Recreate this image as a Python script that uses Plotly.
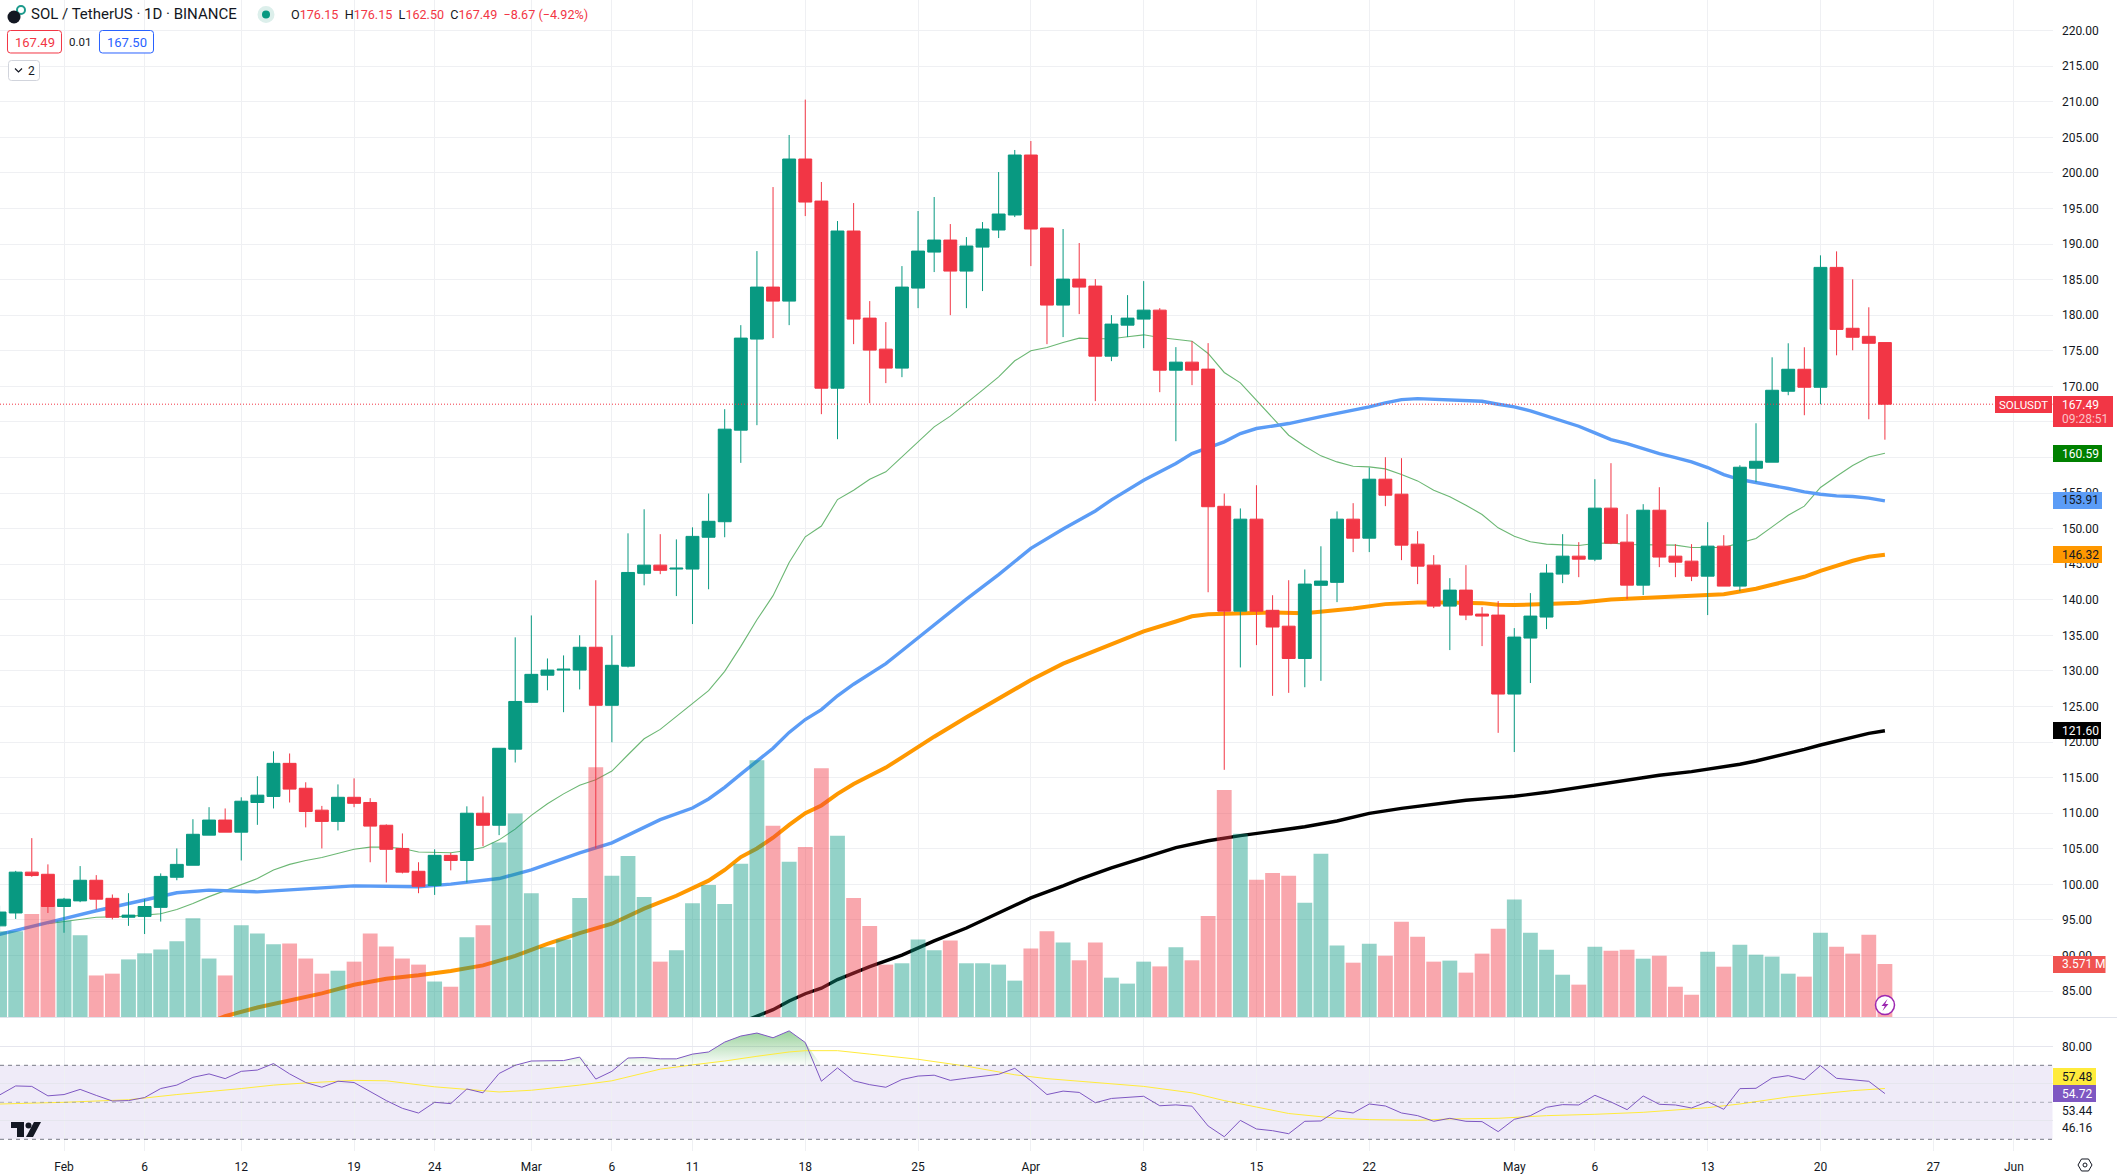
import pandas as pd
import plotly.graph_objects as go

W, H = 2117, 1174
dates = pd.date_range("2024-01-28", "2024-05-24", freq="D")

opens = [94.17, 95.98, 101.72, 101.42,
  96.89, 97.68, 100.58, 98.04, 95.38, 95.50, 96.77, 101.00, 102.69, 106.92, 109.04, 107.34, 111.51, 112.36, 117.01, 113.51, 110.43, 108.85, 112.24, 111.51, 108.31, 105.05, 101.84, 99.85, 104.08, 103.36, 110.00, 108.31, 119.00,
  125.59, 129.40, 130.12, 130.12, 133.33, 125.17, 130.67, 143.72, 144.87, 144.32, 144.32, 148.79, 150.97, 163.84, 176.64, 183.95, 181.98, 201.95, 196.04, 169.74, 191.83, 179.59, 175.23, 172.56, 183.81, 188.87, 190.56, 186.20, 189.57, 191.97, 194.08,
  202.51, 192.25, 181.42, 185.07, 184.09, 174.24, 178.60, 179.45, 180.71, 172.27, 173.40, 172.42, 153.14, 138.40, 151.33, 138.52, 136.29, 131.75, 142.03, 142.45, 151.33, 148.66, 156.95, 154.84, 147.82, 144.87, 139.11, 141.36, 137.99, 137.85,
  126.75, 134.62, 137.57, 143.61, 146.13, 145.71, 152.88, 148.10, 142.06, 152.59, 146.13, 145.43, 143.32, 147.54, 141.92, 158.49, 159.34, 169.31, 172.40, 169.87, 186.72, 178.16, 177.03, 176.15]
closes = [96.11, 101.72, 101.24, 96.89,
  97.92, 100.58, 97.92, 95.38, 95.68, 96.89, 101.12, 102.81, 107.04, 109.04, 107.34, 111.69, 112.54, 117.01, 113.39, 110.24, 108.85, 112.24, 111.39, 108.19, 104.93, 101.72, 99.73, 104.08, 103.36, 110.00, 108.31, 119.13, 125.71,
  129.52, 130.12, 130.24, 133.33, 125.17, 130.79, 143.84, 144.87, 144.14, 144.44, 148.91, 151.03, 163.98, 176.78, 183.95, 181.98, 201.95, 195.90, 169.74, 191.83, 179.45, 175.09, 172.56, 183.95, 189.01, 190.56, 186.20, 189.72, 192.11, 194.22, 202.51,
  192.11, 181.42, 185.07, 183.95, 174.24, 178.75, 179.59, 180.71, 172.27, 173.40, 172.27, 153.08, 138.40, 151.33, 138.40, 136.17, 131.75, 142.21, 142.63, 151.33, 148.66, 156.95, 154.70, 147.68, 144.73, 139.11, 141.36, 137.85, 137.71, 126.75,
  134.76, 137.71, 143.75, 146.13, 145.71, 152.88, 147.96, 142.06, 152.59, 146.00, 145.29, 143.32, 147.54, 141.92, 158.63, 159.47, 169.45, 172.40, 169.87, 186.72, 178.00, 176.90, 176.05, 167.49]
highs = [97.0, 101.90, 106.50, 102.81,
  98.10, 102.57, 101.30, 98.58, 98.76, 97.92, 101.54, 105.05, 109.16, 110.85, 110.67, 112.24, 115.20, 118.70, 118.40, 114.35, 111.03, 114.05, 114.90, 112.12, 108.43, 107.16, 103.11, 104.93, 104.44, 110.97, 112.36, 119.13, 134.72,
  137.80, 131.75, 132.18, 135.02, 142.75, 135.02, 149.34, 152.72, 149.22, 148.49, 150.18, 154.93, 166.79, 178.60, 189.01, 198.01, 205.33, 210.30, 198.72, 193.23, 195.76, 181.98, 179.03, 186.90, 194.64, 196.61, 192.81, 190.98, 193.09, 200.12, 203.22,
  204.48, 192.25, 192.11, 190.14, 185.07, 180.01, 182.82, 184.79, 180.99, 175.51, 176.35, 176.07, 154.93, 152.84, 156.10, 140.64, 142.75, 144.26, 147.52, 152.42, 153.58, 158.59, 160.04, 159.90, 149.64, 146.27, 143.04, 144.87, 138.97, 139.81,
  136.02, 140.94, 145.01, 149.22, 148.10, 156.95, 159.20, 152.03, 153.44, 155.82, 147.82, 147.82, 150.91, 149.08, 158.91, 164.81, 174.08, 176.05, 175.49, 188.41, 188.97, 185.04, 181.11, 176.15]
lows = [93.5, 95.14, 101.06, 95.98,
  93.20, 97.50, 96.47, 95.08, 94.17, 93.02, 94.77, 100.58, 102.69, 106.92, 107.34, 103.36, 108.37, 110.67, 111.51, 108.01, 105.05, 107.58, 110.85, 103.11, 100.27, 101.54, 98.76, 98.52, 101.97, 100.27, 105.35, 106.92, 117.13,
  125.59, 127.28, 124.20, 127.40, 105.05, 119.97, 130.49, 142.03, 143.60, 140.52, 136.59, 141.48, 148.79, 159.24, 164.54, 176.78, 178.60, 193.93, 166.09, 162.57, 175.93, 167.63, 170.45, 171.29, 180.99, 186.06, 180.01, 180.99, 183.39, 190.84, 193.79,
  186.90, 175.93, 176.92, 180.15, 167.92, 173.54, 176.92, 175.37, 169.18, 162.29, 170.17, 141.06, 116.10, 130.49, 133.63, 126.50, 126.92, 127.71, 128.61, 139.67, 146.70, 146.70, 153.16, 145.57, 142.20, 138.83, 132.93, 137.14, 133.49, 121.30,
  118.60, 128.30, 135.88, 142.34, 143.18, 145.43, 147.82, 140.09, 140.66, 144.59, 143.18, 142.62, 137.85, 141.92, 141.22, 156.53, 159.34, 168.75, 165.94, 167.48, 174.36, 175.07, 165.37, 162.50]
volumes = [5.78, 5.78, 6.94, 8.55,
  6.51, 5.51, 2.80, 2.92, 3.88, 4.29, 4.55, 5.10, 6.65, 3.94, 2.80, 6.18, 5.63, 4.90, 4.96, 3.94, 2.92, 3.12, 3.73, 5.63, 4.75, 3.94, 3.53, 2.39, 2.04, 5.37, 6.18, 11.76, 13.71,
  8.34, 4.70, 5.22, 8.02, 16.83, 9.51, 10.85, 8.08, 3.73, 4.49, 7.67, 8.90, 7.61, 10.33, 17.30, 12.89, 10.47, 11.46, 16.77, 12.22, 8.02, 6.13, 3.53, 3.62, 5.22, 4.49, 5.16, 3.62, 3.62, 3.53, 2.45,
  4.61, 5.78, 5.02, 3.82, 5.02, 2.65, 2.25, 3.73, 3.41, 4.70, 3.82, 6.80, 15.29, 12.34, 9.25, 9.71, 9.51, 7.70, 11.00, 4.81, 3.66, 4.94, 4.13, 6.42, 5.41, 3.73, 3.80, 2.99, 4.27, 5.95,
  7.91, 5.68, 4.54, 2.85, 2.18, 4.74, 4.47, 4.54, 3.93, 4.13, 2.04, 1.50, 4.40, 3.39, 4.87, 4.20, 4.07, 2.92, 2.72, 5.68, 4.74, 4.27, 5.55, 3.571]
rsi = [53.95, 58.84, 58.60, 53.49,
  54.19, 56.98, 53.72, 50.70, 50.93, 52.56, 57.44, 59.30, 63.49, 65.35, 62.79, 66.74, 67.44, 70.93, 65.35, 60.70, 58.14, 61.40, 60.70, 55.58, 50.93, 46.74, 44.19, 50.00, 49.30, 57.21, 55.12, 65.58, 70.00,
  72.33, 72.56, 72.56, 74.42, 62.56, 66.74, 73.95, 74.19, 73.49, 73.49, 76.05, 77.21, 82.56, 85.81, 87.44, 84.88, 88.60, 82.33, 61.40, 68.60, 61.63, 59.53, 58.14, 62.33, 64.19, 64.65, 61.86, 63.02, 64.19, 65.12, 68.37,
  61.63, 54.19, 56.05, 55.35, 49.77, 52.09, 52.56, 53.26, 48.14, 48.60, 47.91, 37.21, 31.40, 40.23, 35.58, 34.65, 33.02, 39.73, 39.91, 45.50, 44.23, 49.10, 48.02, 44.23, 42.79, 39.73, 41.35, 39.73, 39.55, 34.14,
  40.81, 42.79, 47.30, 48.74, 48.56, 53.78, 50.18, 46.04, 53.42, 48.92, 48.56, 46.94, 50.36, 46.22, 57.39, 57.57, 63.15, 64.41, 62.25, 69.82, 62.97, 62.07, 61.35, 54.72]

ma_fast_dates = ["01-31","02-01","02-03","02-05","02-07","02-08","02-09","02-10","02-12","02-13","02-14","02-15","02-16","02-17","02-19","02-20","02-21","02-22","02-23","02-25","02-26","02-27","02-28","02-29","03-01","03-02","03-03","03-04","03-05","03-06","03-07","03-08","03-09","03-10","03-11","03-12","03-13","03-14","03-15","03-16","03-17","03-18","03-19","03-20","03-21","03-22","03-23","03-24","03-25","03-26","03-27","03-28","03-29","03-30","03-31","04-01","04-02","04-03","04-04","04-05","04-06","04-07","04-08","04-09","04-10","04-11","04-12","04-13","04-14","04-15","04-16","04-17","04-18","04-19","04-20","04-21","04-22","04-23","04-24","04-25","04-26","04-27","04-28","04-29","04-30","05-01","05-02","05-03","05-04","05-05","05-06","05-07","05-08","05-09","05-10","05-11","05-12","05-13","05-14","05-15","05-16","05-17","05-18","05-19","05-20","05-21","05-22","05-23","05-24"]
ma_fast = [94.47,94.78,95.38,95.50,95.86,96.47,97.31,98.28,99.91,100.82,102.03,102.81,103.36,103.78,104.93,105.23,105.23,105.05,104.56,104.44,104.75,105.17,106.26,107.77,109.70,111.33,112.72,113.93,114.72,115.92,118.22,120.46,121.78,123.60,125.41,127.22,129.94,133.45,137.19,140.58,145.23,148.85,150.37,154.09,155.40,156.95,157.98,160.09,162.20,164.31,165.81,167.59,169.46,171.34,173.59,174.99,175.46,176.17,176.78,176.68,176.68,176.96,177.24,176.87,176.64,176.35,174.62,171.95,170.49,168.06,165.71,163.13,161.59,160.23,159.38,158.77,158.68,158.40,157.60,156.71,155.40,154.47,153.30,151.99,150.11,148.94,148.15,147.82,147.72,147.63,147.91,148.00,147.77,147.77,147.77,147.68,147.35,147.35,147.35,148.00,148.61,150.25,151.89,153.16,155.78,157.37,158.87,160.08,160.59]

ma_mid_dates = ["01-28","01-31","02-01","02-03","02-06","02-08","02-10","02-13","02-16","02-19","02-23","02-25","02-28","03-01","03-04","03-06","03-09","03-11","03-12","03-13","03-14","03-15","03-16","03-17","03-18","03-19","03-20","03-21","03-23","03-24","03-26","03-28","03-30","04-01","04-03","04-05","04-06","04-08","04-10","04-11","04-13","04-14","04-15","04-17","04-19","04-21","04-22","04-23","04-24","04-25","04-27","04-29","04-30","05-01","05-02","05-03","05-04","05-05","05-06","05-07","05-08","05-09","05-10","05-11","05-12","05-13","05-14","05-15","05-16","05-17","05-18","05-19","05-20","05-21","05-22","05-23","05-24"]
ma_mid = [92.96,94.72,95.20,96.29,97.80,98.82,99.19,98.95,99.37,99.79,99.67,100.03,100.82,102.03,104.44,105.83,109.10,110.73,112.00,113.63,115.50,117.31,119.13,121.36,123.17,124.56,126.50,128.13,131.03,132.84,136.47,140.09,143.54,147.22,149.94,152.48,154.05,156.80,159.15,160.55,162.20,163.37,164.07,164.77,165.75,166.64,167.11,167.67,168.14,168.28,168.14,167.90,167.48,167.11,166.55,165.80,165.09,164.39,163.45,162.52,161.96,161.21,160.55,159.99,159.38,158.59,157.60,156.90,156.43,156.06,155.64,155.17,154.84,154.61,154.51,154.28,153.91]

ma_slow_dates = ["02-10","02-11","02-13","02-15","02-17","02-19","02-21","02-23","02-25","02-27","02-29","03-02","03-04","03-06","03-08","03-10","03-11","03-12","03-13","03-14","03-15","03-16","03-17","03-18","03-19","03-20","03-21","03-22","03-23","03-24","03-26","03-28","03-30","04-01","04-03","04-04","04-05","04-07","04-08","04-10","04-11","04-12","04-14","04-16","04-18","04-19","04-21","04-23","04-25","04-27","04-29","04-30","05-01","05-03","05-05","05-07","05-08","05-10","05-12","05-14","05-15","05-16","05-17","05-19","05-20","05-21","05-22","05-23","05-24"]
ma_slow = [80.58,81.48,82.69,83.72,84.68,85.89,86.74,87.22,87.83,88.61,89.94,91.63,93.14,94.47,96.59,98.40,99.43,100.52,102.03,103.84,105.05,106.56,108.37,110.00,111.09,112.72,114.11,115.32,116.41,117.86,120.76,123.48,126.07,128.73,131.03,131.94,132.72,134.53,135.56,136.95,137.68,137.98,138.16,138.22,138.10,138.31,138.78,139.39,139.63,139.63,139.53,139.30,139.25,139.39,139.58,140.05,140.14,140.42,140.61,140.79,141.17,141.55,142.11,143.23,144.07,144.82,145.48,146.04,146.32]

ma_long_dates = ["03-14","03-15","03-16","03-17","03-18","03-19","03-20","03-21","03-22","03-24","03-26","03-28","03-30","04-01","04-03","04-04","04-06","04-08","04-10","04-12","04-14","04-16","04-18","04-20","04-22","04-24","04-26","04-28","04-30","05-01","05-03","05-05","05-06","05-08","05-10","05-12","05-13","05-14","05-15","05-16","05-17","05-18","05-19","05-20","05-21","05-22","05-23","05-24"]
ma_long = [80.58,81.48,82.39,83.60,84.63,85.41,86.62,87.52,88.43,90.06,92.06,93.87,95.98,98.10,99.79,100.70,102.33,103.72,105.17,106.13,106.86,107.46,108.10,108.91,109.99,110.69,111.30,111.82,112.19,112.38,112.94,113.60,113.97,114.58,115.33,115.84,116.17,116.45,116.88,117.34,117.86,118.42,118.98,119.59,120.15,120.72,121.23,121.60]

rsi_ma_dates = ["01-28","02-01","02-05","02-08","02-12","02-14","02-16","02-19","02-21","02-24","02-26","02-28","03-01","03-04","03-06","03-09","03-11","03-13","03-15","03-17","03-18","03-20","03-22","03-25","03-28","03-31","04-02","04-05","04-08","04-11","04-13","04-15","04-17","04-20","04-22","04-25","04-27","04-30","05-03","05-06","05-09","05-13","05-15","05-18","05-20","05-22","05-24"]
rsi_ma = [49.07,50.00,51.40,54.19,57.44,59.30,60.47,61.86,61.63,58.37,56.98,55.58,56.51,59.30,61.63,67.91,70.23,72.33,74.88,77.21,77.91,77.91,76.05,73.26,69.53,64.88,62.79,60.70,58.60,55.12,50.93,47.44,43.95,41.35,40.63,40.27,40.99,41.35,42.79,43.51,44.59,47.12,49.10,52.88,54.50,56.31,57.48]

x_tick_dates = ["2024-02-01","2024-02-06","2024-02-12","2024-02-19","2024-02-24","2024-03-01","2024-03-06","2024-03-11","2024-03-18","2024-03-25","2024-04-01","2024-04-08","2024-04-15","2024-04-22","2024-05-01","2024-05-06","2024-05-13","2024-05-20","2024-05-27","2024-06-01"]
x_tick_text = ["Feb","6","12","19","24","Mar","6","11","18","25","Apr","8","15","22","May","6","13","20","27","Jun"]
price_ticks = list(range(85, 225, 5))

UP, DOWN = "#089981", "#f23645"
TXT = "#131722"
GRID = "#eff0f3"
FONT = "Roboto, Arial, sans-serif"

PANE_R = 2052.5
MAIN_B = 1017
RSI_T, RSI_B = 1018, 1151

def d(v):
    return ["2024-" + s for s in v]

def px(x):
    return x / W

def py(y):
    return 1 - y / H

def path(points, close=True):
    s = "M " + " L ".join(f"{px(a):.5f},{py(b):.5f}" for a, b in points)
    return s + (" Z" if close else "")

fig = go.Figure()

# moving averages on the base price axis (beneath the candles)
for xs, ys, col, wd in [
    (ma_fast_dates, ma_fast, "rgba(70,165,80,0.8)", 1.1),
    (ma_mid_dates, ma_mid, "#5b9cf6", 3.4),
    (ma_slow_dates, ma_slow, "#ff9800", 4),
    (ma_long_dates, ma_long, "#000000", 3.4),
]:
    fig.add_trace(go.Scatter(x=d(xs), y=ys, mode="lines", line=dict(color=col, width=wd),
                             xaxis="x", yaxis="y", hoverinfo="skip"))

fig.add_trace(go.Candlestick(
    x=dates, open=opens, high=highs, low=lows, close=closes,
    increasing=dict(line=dict(color=UP, width=1), fillcolor=UP),
    decreasing=dict(line=dict(color=DOWN, width=1), fillcolor=DOWN),
    whiskerwidth=0, xaxis="x", yaxis="y2", hoverinfo="skip"))

vol_cols = ["rgba(8,153,129,0.44)" if c >= o else "rgba(242,54,69,0.44)" for o, c in zip(opens, closes)]
fig.add_trace(go.Bar(x=dates, y=volumes, marker=dict(color=vol_cols, line=dict(width=0)),
                     width=0.92 * 86400000, xaxis="x", yaxis="y3", hoverinfo="skip"))

# RSI pane
fig.add_trace(go.Scatter(x=dates, y=[70] * len(dates), mode="lines", line=dict(width=0),
                         xaxis="x", yaxis="y4", hoverinfo="skip"))
fig.add_trace(go.Scatter(x=dates, y=[max(v, 70) for v in rsi], mode="lines", line=dict(width=0),
                         fill="tonexty",
                         fillgradient=dict(type="vertical", start=70, stop=90,
                                           colorscale=[[0, "rgba(76,175,80,0.02)"], [1, "rgba(76,175,80,0.6)"]]),
                         xaxis="x", yaxis="y4", hoverinfo="skip"))
fig.add_trace(go.Scatter(x=d(rsi_ma_dates), y=rsi_ma, mode="lines", line=dict(color="#ffeb3b", width=1),
                         xaxis="x", yaxis="y4", hoverinfo="skip"))
fig.add_trace(go.Scatter(x=dates, y=rsi, mode="lines", line=dict(color="#7e57c2", width=1),
                         xaxis="x", yaxis="y4", hoverinfo="skip"))

shapes, annos = [], []

def rect(x0, y0, x1, y1, fill, line=None, lw=1, layer="above"):
    shapes.append(dict(type="rect", xref="paper", yref="paper", x0=px(x0), x1=px(x1), y0=py(y0), y1=py(y1),
                       fillcolor=fill, line=dict(color=line or fill, width=lw if line else 0), layer=layer))

def rrect(x0, y0, x1, y1, r, fill, line):
    s = (f"M {px(x0+r):.5f},{py(y0):.5f} L {px(x1-r):.5f},{py(y0):.5f} "
         f"Q {px(x1):.5f},{py(y0):.5f} {px(x1):.5f},{py(y0+r):.5f} L {px(x1):.5f},{py(y1-r):.5f} "
         f"Q {px(x1):.5f},{py(y1):.5f} {px(x1-r):.5f},{py(y1):.5f} L {px(x0+r):.5f},{py(y1):.5f} "
         f"Q {px(x0):.5f},{py(y1):.5f} {px(x0):.5f},{py(y1-r):.5f} L {px(x0):.5f},{py(y0+r):.5f} "
         f"Q {px(x0):.5f},{py(y0):.5f} {px(x0+r):.5f},{py(y0):.5f} Z")
    shapes.append(dict(type="path", xref="paper", yref="paper", path=s, fillcolor=fill,
                       line=dict(color=line, width=1), layer="above"))

def circle(cx, cy, r, fill, line=None, lw=1):
    shapes.append(dict(type="circle", xref="paper", yref="paper", x0=px(cx-r), x1=px(cx+r), y0=py(cy-r), y1=py(cy+r),
                       fillcolor=fill, line=dict(color=line or fill, width=lw if line else 0), layer="above"))

def label(x, y, text, size=12, color=TXT, anchor="left", weight=None):
    annos.append(dict(xref="paper", yref="paper", x=px(x), y=py(y), text=text, showarrow=False,
                      xanchor=anchor, yanchor="middle", align=anchor,
                      font=dict(family=FONT, size=size, color=color, weight=weight), borderpad=0))

# RSI band and its levels
shapes.append(dict(type="rect", xref="x domain", yref="y4", x0=0, x1=1, y0=30, y1=70,
                   fillcolor="rgba(126,87,194,0.12)", line=dict(width=0), layer="below"))
for lvl, col in [(70, "#787b86"), (50, "rgba(120,123,134,0.55)"), (30, "#787b86")]:
    shapes.append(dict(type="line", xref="x domain", yref="y4", x0=0, x1=1, y0=lvl, y1=lvl,
                       line=dict(color=col, width=1, dash="4px,4px"), layer="above"))
# last price line
shapes.append(dict(type="line", xref="x domain", yref="y", x0=0, x1=1, y0=closes[-1], y1=closes[-1],
                   line=dict(color=DOWN, width=1, dash="1px,2px"), layer="above"))
# pane separator
shapes.append(dict(type="line", xref="paper", yref="paper", x0=0, x1=1, y0=py(MAIN_B+0.5), y1=py(MAIN_B+0.5),
                   line=dict(color="#e0e3eb", width=1), layer="above"))

# header
circle(21, 10, 4, "#ffffff", "#1c9a8c", 2)
circle(14, 17, 6.5, "#131722")
label(30, 14.5, "SOL / TetherUS · 1D · BINANCE", 15)
circle(266, 14.5, 8.5, "#dcefeb")
circle(266, 14.5, 4, UP)
r = DOWN
label(290, 14.5, f'O<span style="color:{r}">176.15</span>  H<span style="color:{r}">176.15</span>  '
      f'L<span style="color:{r}">162.50</span>  C<span style="color:{r}">167.49</span>  '
      f'<span style="color:{r}">−8.67 (−4.92%)</span>', 12.6)
rrect(7.5, 30.5, 61.5, 53, 3, "#ffffff", DOWN)
label(34.5, 42, "167.49", 13, DOWN, "center")
label(80, 42, "0.01", 11.5, TXT, "center")
rrect(99.5, 30.5, 153.5, 53, 3, "#ffffff", "#2962ff")
label(126.5, 42, "167.50", 13, "#2962ff", "center")
rrect(8.5, 60.5, 39.5, 80.5, 3, "#ffffff", "#d1d4dc")
shapes.append(dict(type="path", xref="paper", yref="paper", path=path([(15, 68.5), (18.5, 72), (22, 68.5)], False),
                   line=dict(color=TXT, width=1.2), layer="above"))
label(31, 70.5, "2", 12, TXT, "center")

# price-scale tags
rect(1995, 396, 2052, 413, DOWN)
label(2023.5, 404.5, "SOLUSDT", 11.5, "#ffffff", "center")
rect(2053, 396, 2113, 427, DOWN)
label(2061, 404.5, "167.49", 12, "#ffffff")
label(2061, 419, "09:28:51", 12, "#fbc4c8")
rect(2053, 445, 2102, 462, "#008000")
label(2061, 453.5, "160.59", 12, "#ffffff")
rect(2053, 492, 2102, 509, "#5b9cf6")
label(2061, 500.5, "153.91", 12, TXT)
rect(2053, 546, 2102, 563, "#ff9800")
label(2061, 554.5, "146.32", 12, TXT)
rect(2053, 722, 2101, 739, "#000000")
label(2061, 730.5, "121.60", 12, "#ffffff")
rect(2053, 956, 2105.5, 973, "#f05350")
label(2061, 964.5, "3.571 M", 12, "#ffffff")
rect(2053, 1068, 2096, 1085, "#ffeb3b")
label(2061, 1076.5, "57.48", 12, TXT)
rect(2053, 1085, 2096, 1102, "#7e57c2")
label(2061, 1093.5, "54.72", 12, "#ffffff")
label(2061, 1110.7, "53.44", 12, TXT)
label(2061, 1128, "46.16", 12, TXT)

# lightning marker
circle(1885, 1005, 9.5, "#ffffff", "#9c27b0", 1.5)
shapes.append(dict(type="path", xref="paper", yref="paper",
                   path=path([(1887.5, 999), (1881.5, 1006), (1884.8, 1006), (1882.5, 1011), (1888.5, 1004), (1885.2, 1004)]),
                   fillcolor="#9c27b0", line=dict(width=0), layer="above"))

# TradingView mark
for pts in ([(11, 1122), (24, 1122), (24, 1137), (17, 1137), (17, 1128), (11, 1128)],
            [(34, 1122), (41, 1122), (33, 1137), (26, 1137)]):
    shapes.append(dict(type="path", xref="paper", yref="paper", path=path(pts), fillcolor=TXT,
                       line=dict(width=0), layer="above"))
circle(28.5, 1125.5, 3, TXT)

# settings icon
shapes.append(dict(type="path", xref="paper", yref="paper",
                   path=path([(2078, 1165), (2081.5, 1159), (2088.5, 1159), (2092, 1165), (2088.5, 1171), (2081.5, 1171)]),
                   fillcolor="#ffffff", line=dict(color=TXT, width=1), layer="above"))
circle(2085, 1165, 2, "#ffffff", TXT, 1)

main_dom = [py(MAIN_B), 1]
main_range = [81.36, 224.3]
fig.update_layout(
    width=W, height=H, autosize=False, margin=dict(l=0, r=0, t=0, b=0),
    paper_bgcolor="#ffffff", plot_bgcolor="#ffffff", showlegend=False,
    font=dict(family=FONT, size=12, color=TXT), boxgap=0.2, boxgroupgap=0,
    barmode="overlay", dragmode=False, shapes=shapes, annotations=annos,
    xaxis=dict(domain=[0, PANE_R / W], anchor="y4", type="date",
               range=["2024-01-28 00:39", "2024-06-03 09:36"],
               rangeslider=dict(visible=False), tickmode="array",
               tickvals=x_tick_dates, ticktext=x_tick_text, showgrid=True, gridcolor=GRID, gridwidth=1,
               ticks="outside", ticklen=5, tickcolor="rgba(0,0,0,0)", zeroline=False, showline=False,
               tickfont=dict(family=FONT, size=12, color=TXT)),
    yaxis=dict(domain=main_dom, range=main_range, side="right", anchor="x", tickmode="array",
               tickvals=price_ticks, ticktext=[f"{v:.2f}" for v in price_ticks],
               showgrid=True, gridcolor=GRID, zeroline=False, showline=False,
               ticks="outside", ticklen=6, tickcolor="rgba(0,0,0,0)",
               tickfont=dict(family=FONT, size=12, color=TXT)),
    yaxis2=dict(domain=main_dom, range=main_range, overlaying="y", side="right", anchor="x",
                showgrid=False, showticklabels=False, zeroline=False),
    yaxis3=dict(domain=main_dom, range=[0, (MAIN_B) / 14.84], overlaying="y", side="right", anchor="x",
                showgrid=False, showticklabels=False, zeroline=False),
    yaxis4=dict(domain=[py(RSI_B), py(RSI_T)], range=[23.68, 95.57], side="right", anchor="x",
                tickmode="array", tickvals=[40, 60, 80], ticktext=["", "", "80.00"],
                showgrid=True, gridcolor="#e6e6ee", zeroline=False, showline=False,
                ticks="outside", ticklen=6, tickcolor="rgba(0,0,0,0)",
                tickfont=dict(family=FONT, size=12, color=TXT)),
)

fig.write_html("out.html", config=dict(displayModeBar=False),
               post_script="document.body.style.margin='0';document.body.style.overflow='hidden';")
